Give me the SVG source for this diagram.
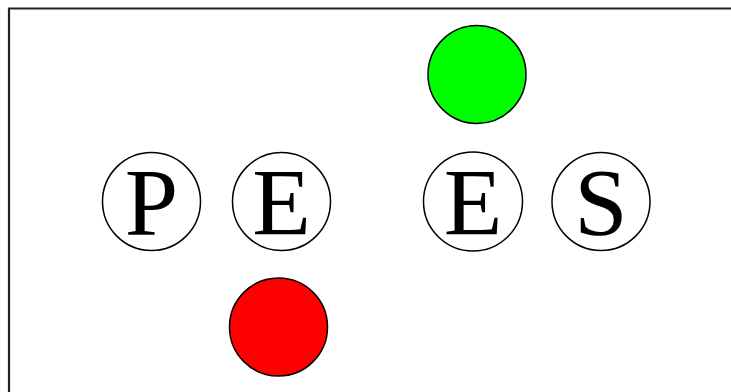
<svg xmlns="http://www.w3.org/2000/svg" width="731" height="392" viewBox="0 0 731 392">
<style>
.c{fill:#fff;stroke:#000;stroke-width:1.5}
.t{font-family:"Liberation Serif","Times New Roman",serif;font-size:96px;fill:#000;text-anchor:middle}
.d{stroke:#000;stroke-width:1.5}
</style>
<rect width="731" height="392" fill="#fff"/>
<path d="M9 400 V8.5 H740" fill="none" stroke="#222" stroke-width="2.2"/>
<g id="nodeP"><circle class="c" cx="151.5" cy="201.5" r="49"/><text class="t" x="151.5" y="235">P</text></g>
<g id="nodeE1"><circle class="c" cx="281.5" cy="201.5" r="49"/><text class="t" x="281.5" y="235">E</text></g>
<g id="nodeE2"><circle class="c" cx="473" cy="201.5" r="49.5"/><text class="t" x="473" y="235">E</text></g>
<g id="nodeS"><circle class="c" cx="601" cy="201.5" r="49"/><text class="t" x="601" y="235">S</text></g>
<g id="green"><circle class="d" fill="#00ff00" cx="477" cy="74.5" r="49"/></g>
<g id="red"><circle class="d" fill="#ff0000" cx="278.5" cy="327" r="49"/></g>
<g id="connectors"></g>
</svg>
